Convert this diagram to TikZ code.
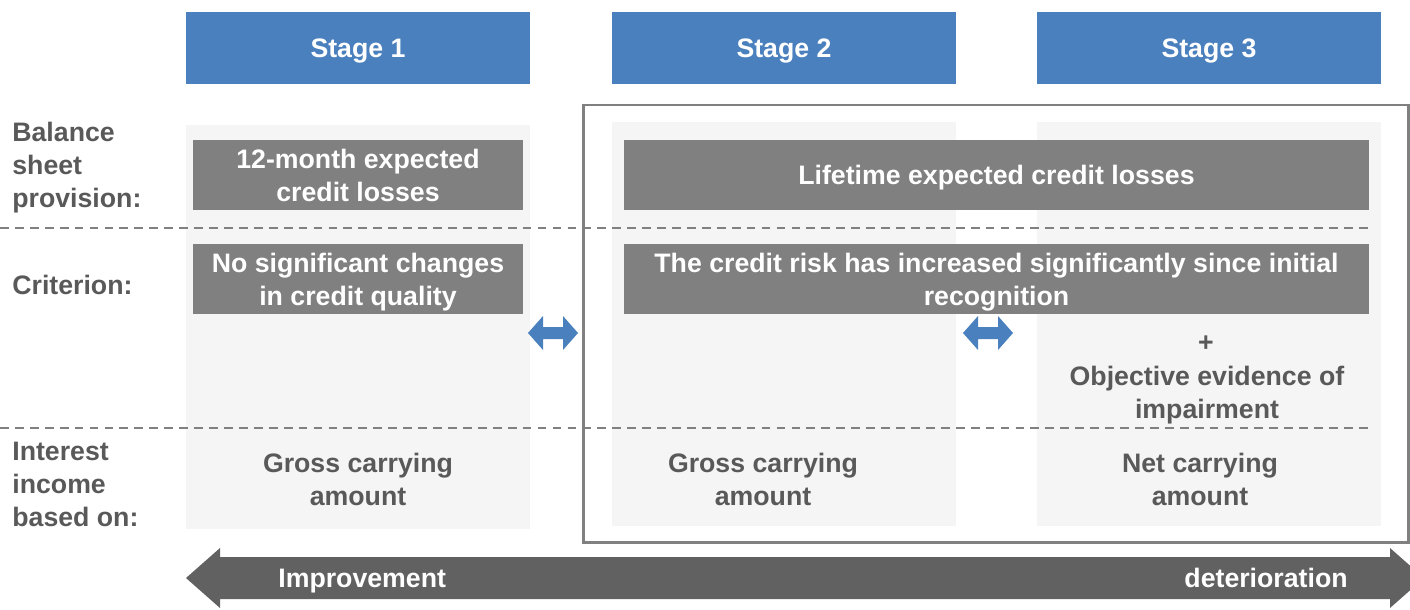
\documentclass[tikz,border=0pt]{standalone}
\usepackage{fontspec}
\setmainfont{Liberation Sans}
\definecolor{stageblue}{HTML}{4A80BD}
\definecolor{boxgrey}{HTML}{808080}
\definecolor{labelgrey}{HTML}{595959}
\definecolor{colbg}{HTML}{F5F5F5}
\definecolor{arrowgrey}{HTML}{616161}

\begin{document}
\begin{tikzpicture}[x=0.02cm, y=-0.02cm,
    font=\bfseries\fontsize{15.2}{18.8}\selectfont, text depth=0pt,
    stagehead/.style={fill=stageblue, text=white, minimum width=6.88cm, minimum height=1.44cm, inner sep=0pt},
    column/.style={fill=colbg, minimum width=6.88cm, minimum height=8.08cm, inner sep=0pt},
    greybox/.style={fill=boxgrey, text=white, align=center, minimum height=1.42cm, inner sep=0pt},
    rowlabel/.style={anchor=west, align=left, text=labelgrey, inner sep=0pt},
    celltext/.style={align=center, text=labelgrey, inner sep=0pt}]
    \useasboundingbox (0,0) rectangle (1410,609);

    \node[stagehead] (stageone) at (358,48) {Stage 1};
    \node[stagehead] (stagetwo) at (784,48) {Stage 2};
    \node[stagehead] (stagethree) at (1209,48) {Stage 3};

    \node[column] (colone) at (358,327) {};
    \node[column] (coltwo) at (784,324) {};
    \node[column] (colthree) at (1209,324) {};

    \draw[boxgrey, line width=1.7pt] (583,105) rectangle (1408,542);

    \node[rowlabel] (lblprov) at (12,165) {Balance\\sheet\\provision:};
    \node[rowlabel] (lblcrit) at (12,285) {Criterion:};
    \node[rowlabel] (lblint) at (12,484) {Interest\\income\\based on:};

    \draw[boxgrey, dash pattern=on 5pt off 3.5pt, line width=0.6pt] (0,228) -- (1368,228);
    \draw[boxgrey, dash pattern=on 5pt off 3.5pt, line width=0.6pt] (0,428) -- (1368,428);

    \node[greybox, minimum width=6.6cm] (provone) at (358,175) {12-month expected\\credit losses};
    \node[greybox, minimum width=14.9cm] (provlife) at (996.5,175) {Lifetime expected credit losses};
    \node[greybox, minimum width=6.6cm] (critone) at (358,279) {No significant changes\\in credit quality};
    \node[greybox, minimum width=14.9cm] (crittwo) at (996.5,279) {The credit risk has increased significantly since initial\\recognition};

    \node[celltext] (plus) at (1206,344) {+};
    \node[celltext] (objev) at (1207,392) {Objective evidence of\\impairment};

    \node[celltext] (intone) at (358,479) {Gross carrying\\amount};
    \node[celltext] (inttwo) at (763,479) {Gross carrying\\amount};
    \node[celltext] (intthree) at (1200,479) {Net carrying\\amount};

    % moves between stages
    \fill[stageblue] (528,333) -- (543,316) -- (543,327) -- (563,327) -- (563,316) -- (578,333)
        -- (563,350) -- (563,339) -- (543,339) -- (543,350) -- cycle;
    \fill[stageblue] (963,333) -- (978,316) -- (978,327) -- (998,327) -- (998,316) -- (1013,333)
        -- (998,350) -- (998,339) -- (978,339) -- (978,350) -- cycle;

    % direction of credit quality
    \fill[arrowgrey] (186,578) -- (220,548) -- (220,557) -- (1390,557) -- (1390,548) -- (1424,578)
        -- (1390,608) -- (1390,599) -- (220,599) -- (220,608) -- cycle;
    \node[anchor=west, text=white, inner sep=0pt] (improve) at (278,578) {Improvement};
    \node[anchor=east, text=white, inner sep=0pt] (worsen) at (1348,578) {deterioration};
\end{tikzpicture}
\end{document}
